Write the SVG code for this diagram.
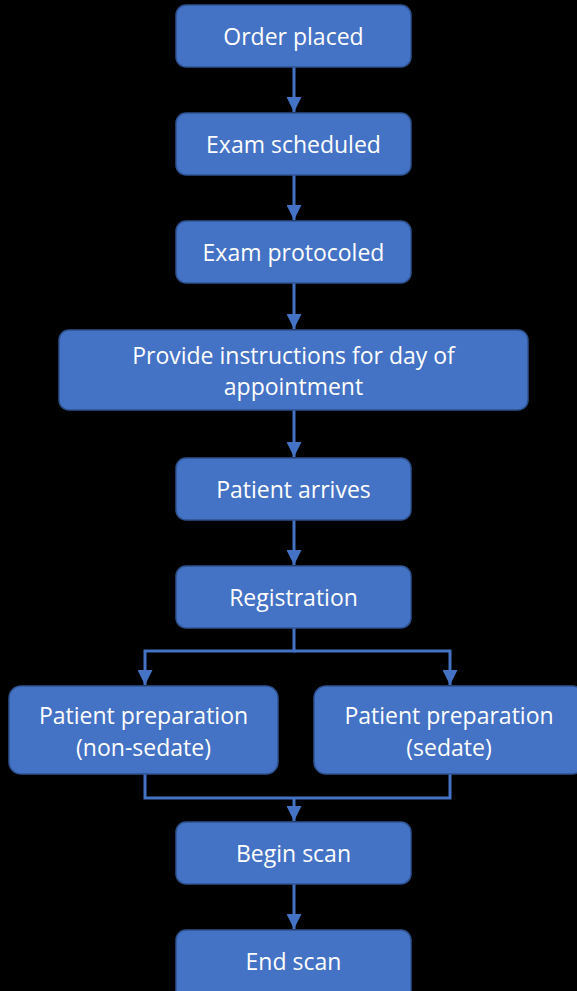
<svg xmlns="http://www.w3.org/2000/svg" width="577" height="991" viewBox="0 0 577 991">
  <style>
    .box { fill: #4472C4; stroke: #2F528F; stroke-width: 1.5; }
    .lbl { fill: #FFFFFF; font-family: "Open Sans", "Noto Sans", sans-serif; font-size: 23px; text-anchor: middle; dominant-baseline: central; }
    .wire { fill: none; stroke: #4472C4; stroke-width: 3; }
  </style>
  <defs>
    <marker id="arrow" viewBox="0 0 10 10" refX="10" refY="5" markerWidth="5" markerHeight="5" markerUnits="strokeWidth" orient="auto">
      <path d="M0,0 L10,5 L0,10 Z" fill="#4472C4"/>
    </marker>
  </defs>
  <rect width="577" height="991" fill="#000000"/>

  <g id="connectors">
    <path class="wire" d="M294,67 V112" marker-end="url(#arrow)"/>
    <path class="wire" d="M294,175 V220" marker-end="url(#arrow)"/>
    <path class="wire" d="M294,283 V329" marker-end="url(#arrow)"/>
    <path class="wire" d="M294,410 V457" marker-end="url(#arrow)"/>
    <path class="wire" d="M294,520 V565" marker-end="url(#arrow)"/>
    <path class="wire" d="M294,628 V651 H145 V685" marker-end="url(#arrow)"/>
    <path class="wire" d="M294,651 H450 V685" marker-end="url(#arrow)"/>
    <path class="wire" d="M145,774 V798 H450 V774"/>
    <path class="wire" d="M294,798 V821" marker-end="url(#arrow)"/>
    <path class="wire" d="M294,884 V929" marker-end="url(#arrow)"/>
  </g>

  <g id="order-placed">
    <rect class="box" x="176" y="5" width="235" height="62" rx="10"/>
    <text class="lbl" x="293.5" y="36">Order placed</text>
  </g>
  <g id="exam-scheduled">
    <rect class="box" x="176" y="113" width="235" height="62" rx="10"/>
    <text class="lbl" x="293.5" y="144">Exam scheduled</text>
  </g>
  <g id="exam-protocoled">
    <rect class="box" x="176" y="221" width="235" height="62" rx="10"/>
    <text class="lbl" x="293.5" y="252">Exam protocoled</text>
  </g>
  <g id="provide-instructions">
    <rect class="box" x="59" y="330" width="469" height="80" rx="10"/>
    <text class="lbl" x="293.5" y="355">Provide instructions for day of</text>
    <text class="lbl" x="293.5" y="386">appointment</text>
  </g>
  <g id="patient-arrives">
    <rect class="box" x="176" y="458" width="235" height="62" rx="10"/>
    <text class="lbl" x="293.5" y="489">Patient arrives</text>
  </g>
  <g id="registration">
    <rect class="box" x="176" y="566" width="235" height="62" rx="10"/>
    <text class="lbl" x="293.5" y="597">Registration</text>
  </g>
  <g id="prep-non-sedate">
    <rect class="box" x="9" y="686" width="269" height="88" rx="12"/>
    <text class="lbl" x="143.5" y="715">Patient preparation</text>
    <text class="lbl" x="143.5" y="747">(non-sedate)</text>
  </g>
  <g id="prep-sedate">
    <rect class="box" x="314" y="686" width="270" height="88" rx="12"/>
    <text class="lbl" x="449" y="715">Patient preparation</text>
    <text class="lbl" x="449" y="747">(sedate)</text>
  </g>
  <g id="begin-scan">
    <rect class="box" x="176" y="822" width="235" height="62" rx="10"/>
    <text class="lbl" x="293.5" y="853">Begin scan</text>
  </g>
  <g id="end-scan">
    <rect class="box" x="176" y="930" width="235" height="70" rx="10"/>
    <text class="lbl" x="293.5" y="961">End scan</text>
  </g>
</svg>
